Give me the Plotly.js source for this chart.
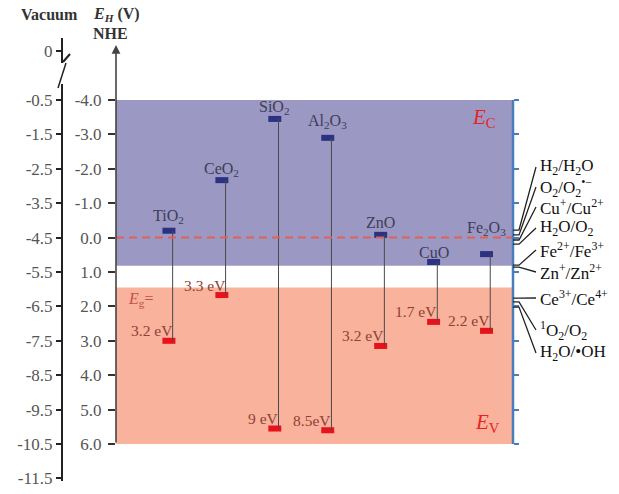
<!DOCTYPE html>
<html><head><meta charset="utf-8">
<script src="https://cdn.plot.ly/plotly-3.0.1.min.js"></script>
<style>html,body{margin:0;padding:0;background:#fff;}#chart{width:619px;height:494px;}</style>
</head><body><div id="chart"></div>
<script>
// ---- data ----
const materials = ['TiO<sub>2</sub>','CeO<sub>2</sub>','SiO<sub>2</sub>','Al<sub>2</sub>O<sub>3</sub>','ZnO','CuO','Fe<sub>2</sub>O<sub>3</sub>'];
const conductionBand = [-0.2, -1.67, -3.45, -2.9, -0.08, 0.71, 0.48];   // E_H (V vs NHE)
const valenceBand    = [3.0, 1.67, 5.55, 5.6, 3.15, 2.45, 2.71];
const bandGapLabels  = ['3.2 eV','3.3 eV','9 eV','8.5eV','3.2 eV','1.7 eV','2.2 eV'];
const nheTicks = [-4,-3,-2,-1,0,1,2,3,4,5,6];
const nheTickLabels = ['-4.0','-3.0','-2.0','-1.0','0.0','1.0','2.0','3.0','4.0','5.0','6.0'];
const vacuumValues = [0,-0.5,-1.5,-2.5,-3.5,-4.5,-5.5,-6.5,-7.5,-8.5,-9.5,-10.5,-11.5];
const redoxCouples = ['H<sub>2</sub>/H<sub>2</sub>O','O<sub>2</sub>/O<sub>2</sub><sup>•−</sup>','Cu<sup>+</sup>/Cu<sup>2+</sup>','H<sub>2</sub>O/O<sub>2</sub>','Fe<sup>2+</sup>/Fe<sup>3+</sup>','Zn<sup>+</sup>/Zn<sup>2+</sup>','Ce<sup>3+</sup>/Ce<sup>4+</sup>','<sup>1</sup>O<sub>2</sub>/O<sub>2</sub>','H<sub>2</sub>O/•OH'];
const redoxPotentials = [-0.22, -0.08, 0.07, 0.19, 0.80, 0.86, 1.76, 1.87, 2.02];
const conductionRegion = [-4, 0.82];
const valenceRegion = [1.45, 6];

// ---- layout helpers (not data) ----
const PL=62, PR=513, PT=38, PB=482, Y0=237.6, K=34.4;
const yTop=(PT-Y0)/K, yBot=(PB-Y0)/K;
const px = x => (x-PL)/(PR-PL);
const py = y => (PB-y)/(PB-PT);
const vy = y => (y-Y0)/K;
const SERIF = 'Liberation Serif, Times New Roman, serif';
const xPos = materials.map((m,i)=>i+1);
const lineOffset = 0.07;
const markH = 0.175, markW = 0.245;
const vacuumBreakPos = vy(51);
const vacPos = vacuumValues.map(v => v===0 ? vacuumBreakPos : -4.5 - v);
const vacText = vacuumValues.map(v => v===0 ? '0' : v.toFixed(1));
const matLabelShift = [14, 11, 11, 16, 12, 10, 26];
const redoxLabelY = [167,187,207,228,250,272,298,330,353].map(vy);

// ---- traces ----
const lx=[], ly=[];
xPos.forEach((x,i)=>{ lx.push(x+lineOffset,x+lineOffset,null); ly.push(conductionBand[i],valenceBand[i],null); });
const traces = [
  {type:'scatter', mode:'lines', x:lx, y:ly, line:{color:'#4a4a4a', width:1}, hoverinfo:'skip', showlegend:false},
  {type:'bar', x:xPos, y:conductionBand.map(()=>markH), base:conductionBand.map(v=>v-markH/2), width:markW,
   marker:{color:'#2c3282', line:{width:0}}, hoverinfo:'skip', showlegend:false},
  {type:'bar', x:xPos, y:valenceBand.map(()=>markH), base:valenceBand.map(v=>v-markH/2), width:markW,
   marker:{color:'#e8121c', line:{width:0}}, hoverinfo:'skip', showlegend:false},
  {type:'scatter', mode:'markers', x:[1], y:[0], yaxis:'y2', marker:{opacity:0}, hoverinfo:'skip', showlegend:false},
  {type:'scatter', mode:'markers', x:[1], y:[0], yaxis:'y3', marker:{opacity:0}, hoverinfo:'skip', showlegend:false}
];

// ---- shapes ----
const shapes = [
  {type:'rect', xref:'x', yref:'y', x0:0, x1:7.5, y0:conductionRegion[0], y1:conductionRegion[1], fillcolor:'#9c98c4', line:{width:0}, layer:'below'},
  {type:'rect', xref:'x', yref:'y', x0:0, x1:7.5, y0:valenceRegion[0], y1:valenceRegion[1], fillcolor:'#f9b29c', line:{width:0}, layer:'below'},
  {type:'line', xref:'x', yref:'y', x0:0, x1:7.5, y0:0, y1:0, line:{color:'#e0605a', width:2, dash:'8px,5px'}},
  {type:'line', xref:'paper', yref:'y', x0:1, x1:1, y0:-4, y1:6, line:{color:'#4a7eba', width:2.5}},
  // vacuum axis with break
  {type:'line', xref:'paper', yref:'paper', x0:0, x1:0, y0:py(38), y1:py(63), line:{color:'#222', width:2}},
  {type:'line', xref:'paper', yref:'paper', x0:px(63), x1:px(70), y0:py(62), y1:py(54), line:{color:'#222', width:2}},
  {type:'line', xref:'paper', yref:'paper', x0:px(66), x1:px(58), y0:py(63), y1:py(88), line:{color:'#222', width:1.5}},
  {type:'line', xref:'paper', yref:'paper', x0:0, x1:0, y0:py(84), y1:py(481), line:{color:'#222', width:2}}
];
redoxPotentials.forEach((p,i)=>{
  shapes.push({type:'path', xref:'paper', yref:'y',
    path:`M 1,${p} L ${px(519)},${p} L ${px(536)},${redoxLabelY[i]}`,
    line:{color:'#222', width:1.3}});
});

// ---- annotations ----
const ann = [];
ann.push({x:0, y:vy(45), ax:0, ay:6, xref:'x', yref:'y', axref:'x', ayref:'y', text:'', showarrow:true,
  arrowhead:2, arrowsize:1.1, arrowwidth:1.6, arrowcolor:'#444'});
materials.forEach((m,i)=>{
  ann.push({x:xPos[i], y:conductionBand[i], xref:'x', yref:'y', text:m, showarrow:false, xanchor:'center', yanchor:'middle',
    yshift:matLabelShift[i], font:{family:SERIF, size:16, color:'#3d3d58'}});
  ann.push({x:xPos[i]+lineOffset, y:valenceBand[i], xref:'x', yref:'y', text:bandGapLabels[i], showarrow:false,
    xanchor:'right', yanchor:'middle', xshift:2, yshift:10, font:{family:SERIF, size:15.5, color:'#8e4035'}});
});
redoxCouples.forEach((r,i)=>{
  ann.push({x:px(538), y:redoxLabelY[i], xref:'paper', yref:'y', text:r, showarrow:false, xanchor:'left', yanchor:'middle',
    font:{family:SERIF, size:17, color:'#111'}});
});
ann.push({x:(498-116)/52.93, y:vy(118), xref:'x', yref:'y', text:'<i>E</i><sub>C</sub>', showarrow:false, xanchor:'right', yanchor:'middle',
  font:{family:SERIF, size:21, color:'#e8231e'}});
ann.push({x:(502-116)/52.93, y:vy(423), xref:'x', yref:'y', text:'<i>E</i><sub>V</sub>', showarrow:false, xanchor:'right', yanchor:'middle',
  font:{family:SERIF, size:21, color:'#e8231e'}});
ann.push({x:(126-116)/52.93, y:vy(299), xref:'x', yref:'y', text:'<i>E</i><sub>g</sub>=', showarrow:false, xanchor:'left', yanchor:'middle',
  font:{family:SERIF, size:16, color:'#c0504d'}});
ann.push({x:px(49), y:py(15), xref:'paper', yref:'paper', text:'<b>Vacuum</b>', showarrow:false, xanchor:'center', yanchor:'middle',
  font:{family:SERIF, size:16, color:'#333'}});
ann.push({x:px(116), y:py(15), xref:'paper', yref:'paper', text:'<b><i>E</i><sub><i>H</i></sub> (V)</b>', showarrow:false, xanchor:'center', yanchor:'middle',
  font:{family:SERIF, size:16, color:'#333'}});
ann.push({x:px(110), y:py(33), xref:'paper', yref:'paper', text:'<b>NHE</b>', showarrow:false, xanchor:'center', yanchor:'middle',
  font:{family:SERIF, size:16, color:'#333'}});

const layout = {
  width:619, height:494, margin:{l:PL, r:619-PR, t:PT, b:494-PB, pad:0},
  paper_bgcolor:'#fff', plot_bgcolor:'rgba(0,0,0,0)', showlegend:false, barmode:'overlay',
  xaxis:{range:[0,7.5], domain:[px(116),1], visible:false, fixedrange:true},
  yaxis:{range:[yBot,yTop], tickvals:nheTicks, ticktext:nheTickLabels, ticks:'outside', ticklen:7, tickwidth:2, tickcolor:'#333',
    ticklabelstandoff:3, showline:false, showgrid:false, zeroline:false, fixedrange:true, tickfont:{family:SERIF, size:17, color:'#555'}},
  yaxis2:{overlaying:'y', anchor:'free', position:0, side:'left', range:[yBot,yTop], tickvals:vacPos, ticktext:vacText,
    ticks:'outside', ticklen:6, tickwidth:2, tickcolor:'#222', showline:false, showgrid:false, zeroline:false, fixedrange:true,
    tickfont:{family:SERIF, size:17, color:'#555'}},
  yaxis3:{overlaying:'y', anchor:'x', side:'right', range:[yBot,yTop], tickvals:nheTicks, ticks:'outside', ticklen:5, tickwidth:2,
    tickcolor:'#4a7eba', showticklabels:false, showline:false, showgrid:false, zeroline:false, fixedrange:true},
  shapes:shapes, annotations:ann
};
Plotly.newPlot('chart', traces, layout, {displayModeBar:false, staticPlot:true});
</script></body></html>
